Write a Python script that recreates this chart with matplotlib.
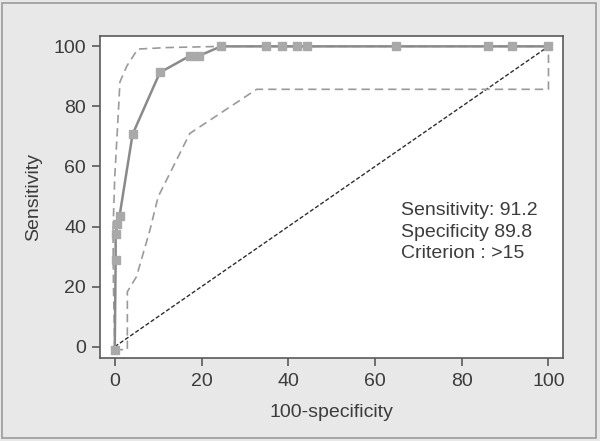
import matplotlib
matplotlib.use("Agg")
import matplotlib.pyplot as plt
from matplotlib.patches import Rectangle

# -------------------------------------------------------------------
# DATA
# -------------------------------------------------------------------
roc_x = [0.0, 0.2, 0.2, 0.5, 1.1, 4.1, 10.4, 17.4, 19.5, 24.5,
         34.9, 38.5, 42.0, 44.4, 64.9, 86.1, 91.5, 100.0]
roc_y = [-1.0, 28.9, 37.4, 40.7, 43.5, 70.7, 91.3, 96.9, 96.9, 100.0,
         100.0, 100.0, 100.0, 100.0, 100.0, 100.0, 100.0, 100.0]

ci_upper_x = [0.0, -0.3, -0.4, 0.0, 0.6, 1.2, 2.8, 5.3, 12.0, 24.6, 100.0]
ci_upper_y = [-1.0, 20.0, 38.9, 56.6, 72.1, 88.2, 93.5, 99.1, 99.6, 100.0, 100.0]

ci_lower_x = [0.0, 2.9, 2.9, 5.0, 8.1, 10.0, 17.3, 32.7, 100.0, 100.0]
ci_lower_y = [-1.0, -1.0, 18.3, 23.3, 38.8, 49.9, 71.0, 85.7, 85.7, 100.0]

diag_x = [0, 100]
diag_y = [0, 100]

ticks = [0, 20, 40, 60, 80, 100]
stats_text = "Sensitivity: 91.2\nSpecificity 89.8\nCriterion : >15"

# -------------------------------------------------------------------
# STYLE
# -------------------------------------------------------------------
plt.rcParams["font.family"] = ["Liberation Sans", "DejaVu Sans"]
TEXT_C = "#3c3c3c"
SPINE_C = "#5a5a5a"
BG_C = "#e8e8e8"
FS = 14

fig = plt.figure(figsize=(6.0, 4.41), dpi=100, facecolor=BG_C)
fig.patches.append(Rectangle((0.004, 0.007), 0.99, 0.987, transform=fig.transFigure,
                             fill=False, edgecolor="#9a9a9a", linewidth=1.2))

ax = fig.add_axes([0.1667, 0.188, 0.7713, 0.730])
ax.set_facecolor("white")

# chance diagonal
ax.plot(diag_x, diag_y, color="#2e2e2e", linewidth=1.0, dashes=(3, 1.5), zorder=2)

# confidence bounds
ax.plot(ci_upper_x, ci_upper_y, color="#9a9a9a", linewidth=1.2, dashes=(5, 3), zorder=2)
ax.plot(ci_lower_x, ci_lower_y, color="#9a9a9a", linewidth=1.2, dashes=(5, 3), zorder=2)

# ROC curve
ax.plot(roc_x, roc_y, color="#8a8a8a", linewidth=1.8, marker="s", markersize=6,
        markerfacecolor="#a9a9a9", markeredgecolor="#a9a9a9", zorder=3)

ax.text(0.650, 0.391, stats_text, transform=ax.transAxes, fontsize=FS,
        color=TEXT_C, ha="left", va="center", linespacing=1.36)

ax.set_xlim(-3.4, 103.3)
ax.set_ylim(-3.8, 103.4)
ax.set_xticks(ticks)
ax.set_yticks(ticks)

for s in ax.spines.values():
    s.set_color(SPINE_C)
    s.set_linewidth(1.2)

ax.tick_params(direction="out", length=6, width=1.2, color=SPINE_C,
               labelsize=FS, labelcolor=TEXT_C)
ax.tick_params(axis="x", pad=5)
ax.tick_params(axis="y", pad=4)

ax.set_xlabel("100-specificity", fontsize=FS, color=TEXT_C, labelpad=10)
ax.set_ylabel("Sensitivity", fontsize=FS, color=TEXT_C, labelpad=8)

plt.savefig("out.png", dpi=100, facecolor=BG_C)
